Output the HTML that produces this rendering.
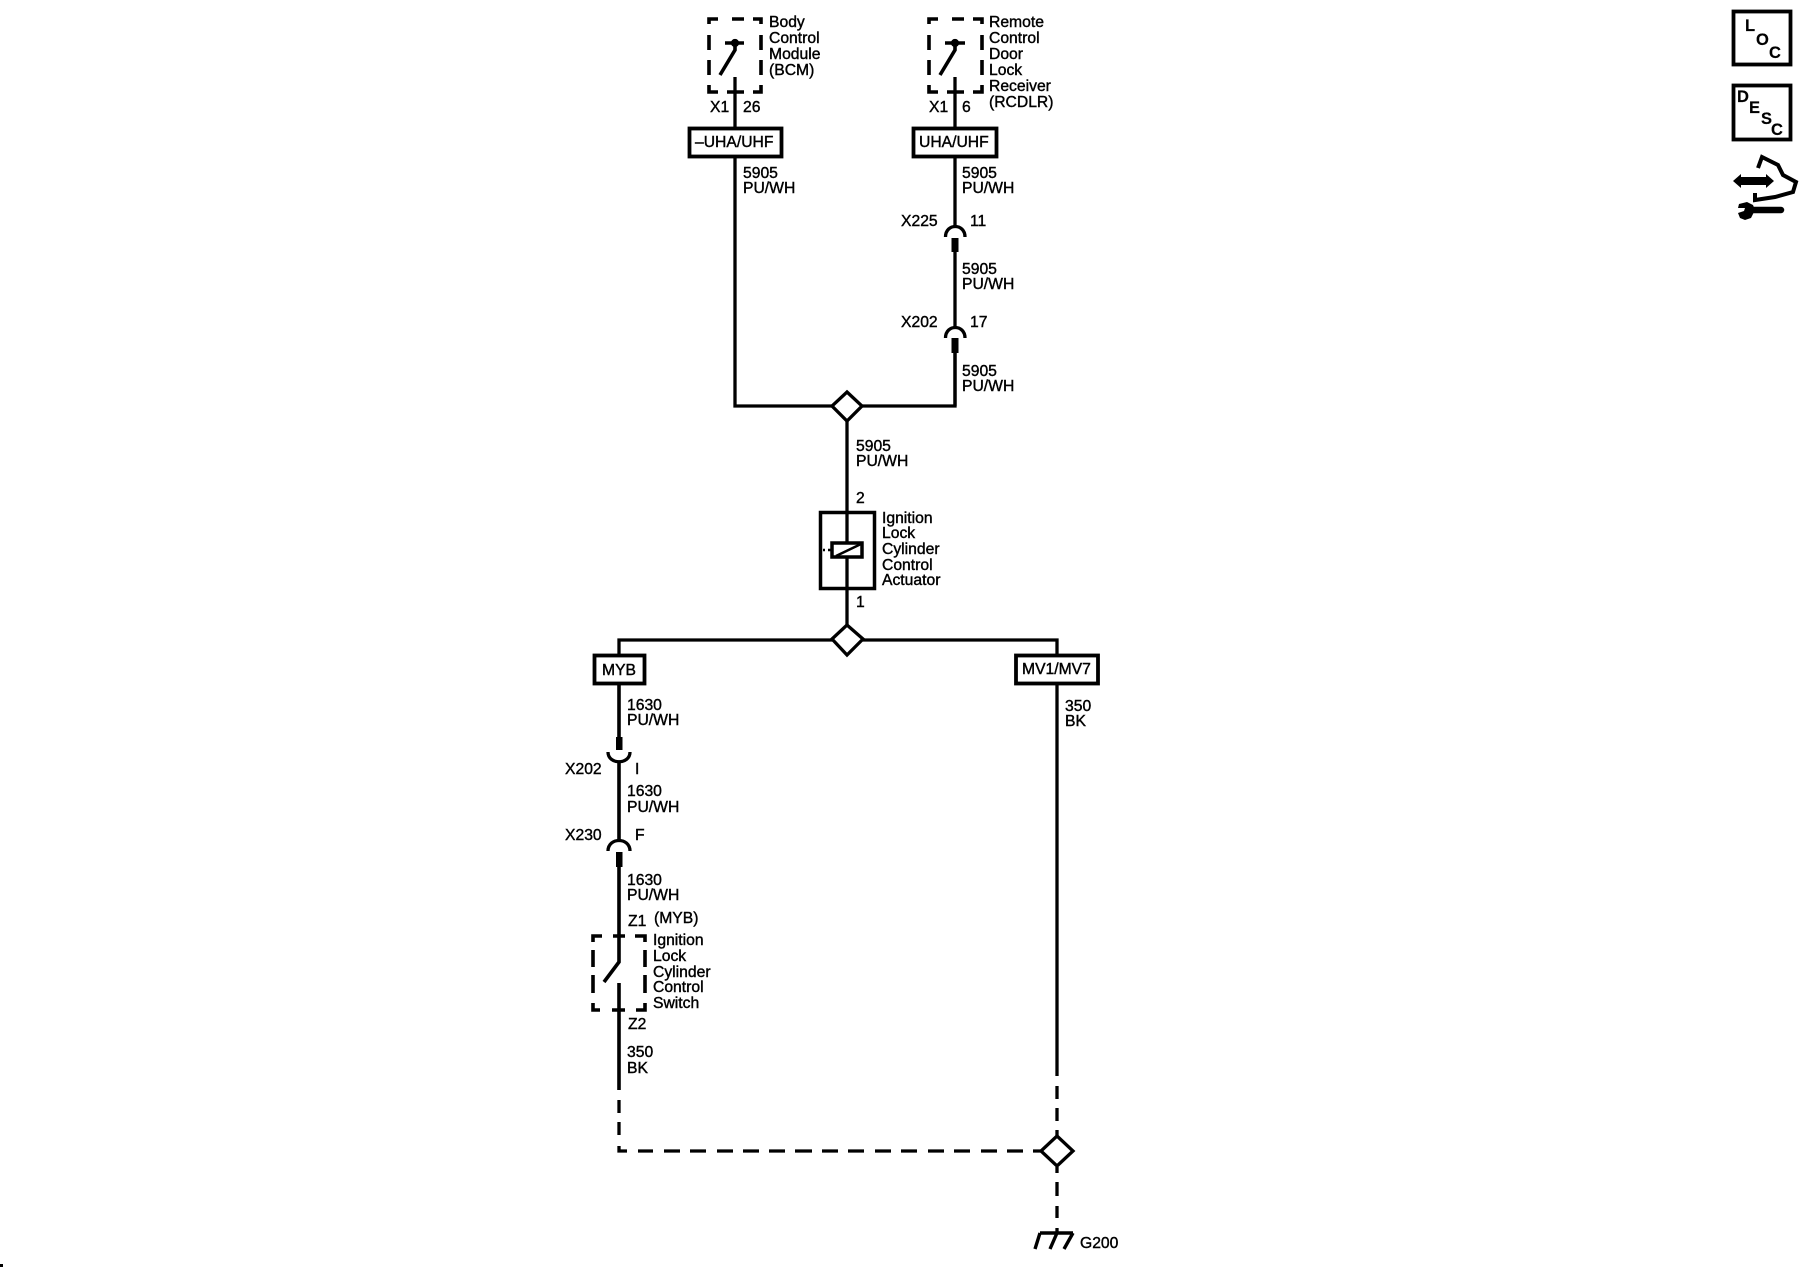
<!DOCTYPE html>
<html><head><meta charset="utf-8"><title>Diagram</title>
<style>
html,body{margin:0;padding:0;background:#fff}
svg{display:block}
text{font-family:"Liberation Sans",sans-serif;font-size:15.7px;fill:#000;stroke:#000;stroke-width:.4px}
.b{font-weight:bold;font-size:16.5px;stroke-width:.2px}
</style></head><body>
<svg width="1800" height="1280" viewBox="0 0 1800 1280" xmlns="http://www.w3.org/2000/svg">
<g fill="none" stroke="#000" stroke-width="3.3">
<!-- BCM -->
<path d="M709 24V19H718M732 19H744M753 19H761V24M709 35V50M709 60V75M761 35V50M761 60V75M709 85V92H718M727 92H744M753 92H761V85" stroke-width="3.6"/>
<path d="M735 77V127M735 157V406H955V338" />
<path d="M725 43H744" stroke-width="3.6"/>
<path d="M735 43V50L720 75" stroke-width="3.6"/>
<circle cx="735" cy="43" r="2.5" fill="#000"/>
<rect x="689.5" y="128.5" width="92" height="28" stroke-width="3.8" fill="#fff"/>
<!-- RCDLR -->
<path d="M929 24V19H938M952 19H964M973 19H982V24M929 35V50M929 60V75M982 35V50M982 60V75M929 85V92H938M947 92H964M973 92H982V85" stroke-width="3.6"/>
<path d="M955 77V127M955 157V226M955 252V327M955 353V406"/>
<path d="M945 43H965" stroke-width="3.6"/>
<path d="M955 43V50L940 75" stroke-width="3.6"/>
<circle cx="955" cy="43" r="2.5" fill="#000"/>
<rect x="913.5" y="128.5" width="83" height="28" stroke-width="3.8" fill="#fff"/>
<!-- connectors on right wire -->
<path d="M945.5 237C945.5 223 965 223 965 237"/>
<rect x="951.5" y="238" width="7" height="14" fill="#000" stroke="none"/>
<path d="M945.5 338C945.5 324 965 324 965 338"/>
<rect x="951.5" y="338" width="7" height="15" fill="#000" stroke="none"/>
<!-- center -->
<path d="M847 406V512M847 588V640"/>
<polygon points="847,392 862,406 847,421 832,406" fill="#fff" stroke-width="3.3"/>
<rect x="820.5" y="512.5" width="54" height="76" stroke-width="3.5" fill="none"/>
<path d="M847 512V543M847 557V588"/>
<rect x="832" y="543" width="30" height="14" stroke-width="3.5" fill="#fff"/>
<path d="M836 556L861 544" stroke-width="2.5"/>
<path d="M823 550H825M828 550H832" stroke-width="2.5"/>
<path d="M619 654V640H1057V654"/>
<polygon points="847,625 863,639 847,655 832,639" fill="#fff" stroke-width="3.3"/>
<rect x="594.5" y="655.5" width="50" height="28" stroke-width="3.8" fill="#fff"/>
<rect x="1016" y="655.5" width="82" height="28" stroke-width="3.8" fill="#fff"/>
<!-- MYB wire -->
<path d="M619 684V737" stroke-width="3.6"/>
<rect x="616" y="737" width="6.5" height="13" fill="#000" stroke="none"/>
<path d="M608 752C608 765 630 765 630 752"/>
<path d="M619 762V840" stroke-width="3.6"/>
<path d="M608 851C608 837 630 837 630 851"/>
<rect x="616" y="852" width="6.5" height="15" fill="#000" stroke="none"/>
<path d="M619 867V962L604 982M619 983V1090" stroke-width="3.6"/>
<path d="M593 942V936H602M613 936H625M635 936H645V942M593 950V967M593 975V993M645 950V967M645 975V993M593 1003V1010H600M612 1010H625M636 1010H645V1003" stroke-width="3.6"/>
<!-- dashes -->
<path d="M619 1100V1113M619 1122V1135M619 1146V1151H627"/>
<path d="M638 1151H653M664 1151H680M690 1151H706M717 1151H733M743 1151H759M769 1151H785M795 1151H812M822 1151H838M848 1151H864M875 1151H891M901 1151H917M928 1151H944M954 1151H970M981 1151H997M1007 1151H1023M1033 1151H1042"/>
<path d="M1057 684V1076M1057 1086V1099M1057 1108V1121M1057 1130V1136M1057 1167V1173M1057 1182V1196M1057 1206V1218M1057 1228V1233"/>
<polygon points="1057,1136 1073,1151 1057,1166 1041,1151" fill="#fff" stroke-width="3.3"/>
<path d="M1040 1233H1073M1040 1233L1035 1249M1057 1233L1050 1249M1073 1233L1064 1249" stroke-width="3.4"/>
<!-- LOC / DESC -->
<rect x="1733.5" y="11.5" width="57" height="53" stroke-width="3.8"/>
<rect x="1733.5" y="85.5" width="57" height="54" stroke-width="3.8"/>
<!-- tool icon -->
<path d="M1758 168L1762 157L1778 165L1783 175L1796 182L1793 192L1775 197L1755 200L1755 193" stroke-width="4"/>
<path d="M1750 210H1781" stroke-width="6.5" stroke-linecap="round"/>
</g>
<polygon points="1733,181 1741,174 1741,177 1766,177 1766,174 1774,181 1766,188 1766,185 1741,185 1741,188"/>
<path d="M1739 204L1747 202L1753 205L1755 210L1751 218L1745 220L1740 218L1738 213L1744 211L1745 208L1738 208Z"/>
<rect x="0" y="1264" width="3" height="3"/>
<!-- labels -->
<text x="769" y="27">Body</text><text x="769" y="43">Control</text><text x="769" y="59">Module</text><text x="769" y="75">(BCM)</text>
<text x="989" y="27">Remote</text><text x="989" y="43">Control</text><text x="989" y="59">Door</text><text x="989" y="75">Lock</text><text x="989" y="91">Receiver</text><text x="989" y="107">(RCDLR)</text>
<text x="710" y="112">X1</text><text x="743" y="112">26</text>
<text x="929" y="112">X1</text><text x="962" y="112">6</text>
<text x="695" y="147">–UHA/UHF</text><text x="919" y="147">UHA/UHF</text>
<text x="743" y="178">5905</text><text x="743" y="193">PU/WH</text>
<text x="962" y="178">5905</text><text x="962" y="193">PU/WH</text>
<text x="901" y="226">X225</text><text x="970" y="226">11</text>
<text x="962" y="274">5905</text><text x="962" y="289">PU/WH</text>
<text x="901" y="327">X202</text><text x="970" y="327">17</text>
<text x="962" y="376">5905</text><text x="962" y="391">PU/WH</text>
<text x="856" y="451">5905</text><text x="856" y="466">PU/WH</text>
<text x="856" y="503">2</text>
<text x="882" y="523">Ignition</text><text x="882" y="538">Lock</text><text x="882" y="554">Cylinder</text><text x="882" y="570">Control</text><text x="882" y="585">Actuator</text>
<text x="856" y="607">1</text>
<text x="602" y="675">MYB</text><text x="1022" y="674">MV1/MV7</text>
<text x="627" y="710">1630</text><text x="627" y="725">PU/WH</text>
<text x="1065" y="711">350</text><text x="1065" y="726">BK</text>
<text x="565" y="774">X202</text><text x="635" y="774">I</text>
<text x="627" y="796">1630</text><text x="627" y="812">PU/WH</text>
<text x="565" y="840">X230</text><text x="635" y="840">F</text>
<text x="627" y="885">1630</text><text x="627" y="900">PU/WH</text>
<text x="628" y="926">Z1</text><text x="654" y="923">(MYB)</text>
<text x="653" y="945">Ignition</text><text x="653" y="961">Lock</text><text x="653" y="977">Cylinder</text><text x="653" y="992">Control</text><text x="653" y="1008">Switch</text>
<text x="628" y="1029">Z2</text>
<text x="627" y="1057">350</text><text x="627" y="1073">BK</text>
<text x="1080" y="1248">G200</text>
<text class="b" x="1745" y="31">L</text><text class="b" x="1756" y="45">O</text><text class="b" x="1769" y="58">C</text>
<text class="b" x="1737" y="102">D</text><text class="b" x="1749" y="113">E</text><text class="b" x="1761" y="124">S</text><text class="b" x="1771" y="135">C</text>
</svg>
</body></html>
